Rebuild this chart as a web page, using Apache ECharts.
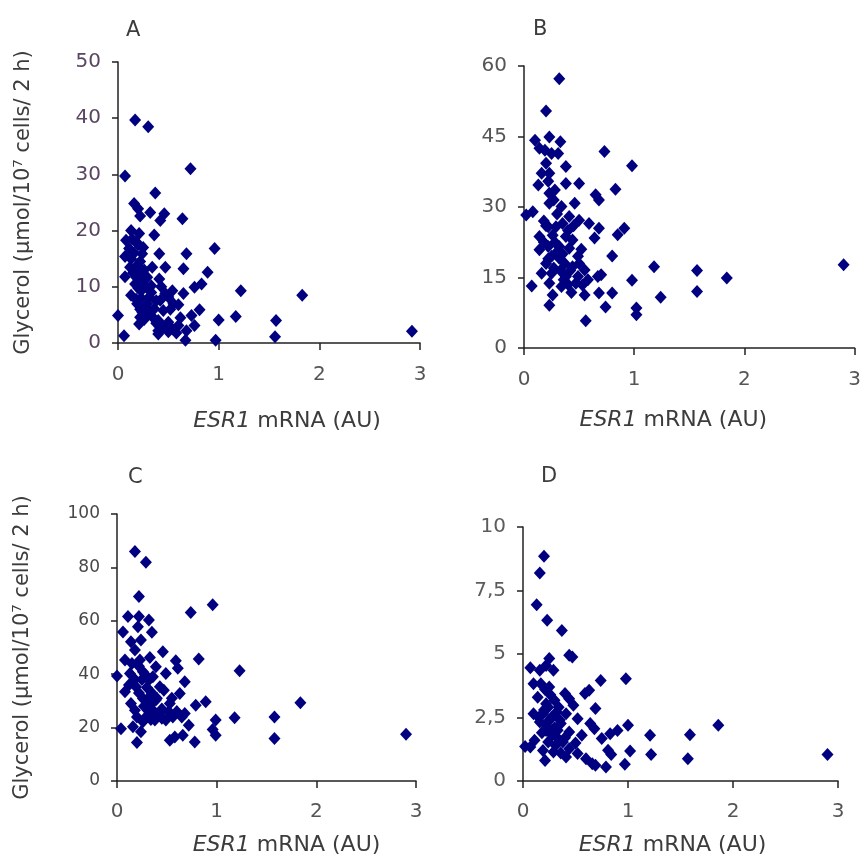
<!DOCTYPE html>
<html>
<head>
<meta charset="utf-8">
<script src="https://cdn.jsdelivr.net/npm/echarts@6/dist/echarts.min.js"></script>
<style>
  html, body { margin: 0; padding: 0; background: #fff; }
  #chart { width: 864px; height: 862px; }
</style>
</head>
<body>
<div id="chart"></div>
<script>
// panel A: [ESR1 mRNA, glycerol]
var panelA = [
  [0.17, 39.7], [0.30, 38.5], [0.07, 29.7], [0.72, 31], [0.37, 26.7], [0.16, 24.8], [0.20, 23.9],
  [0.22, 22.6], [0.32, 23.2], [0.46, 23], [0.42, 21.8], [0.64, 22.1], [0.36, 19.2], [0.13, 20],
  [0.08, 18.3], [0.21, 19.5], [0.07, 15.4], [0.24, 15.9], [0.41, 15.9], [0.68, 15.9], [0.96, 16.8],
  [0.47, 13.5], [0.65, 13.2], [0.34, 13.5], [0.89, 12.6], [0.07, 11.8], [0.18, 11.7], [0.29, 11.7],
  [0.41, 11.4], [0.83, 10.5], [0.76, 9.9], [1.22, 9.3], [1.83, 8.5], [0.13, 8.5], [0.23, 9.3],
  [0.54, 9.3], [0.65, 8.8], [0.31, 8.2], [0.42, 7.6], [0.47, 8.8], [0.19, 7], [0.29, 7], [0.55, 7],
  [0.24, 5.5], [0.36, 6.1], [0.45, 5.8], [0.81, 5.9], [0.0, 4.9], [0.22, 4.6], [0.40, 4], [0.73, 4.9],
  [1.0, 4.1], [1.17, 4.7], [1.57, 4], [0.21, 3.4], [0.50, 3.7], [0.60, 3.1], [0.76, 3.1], [0.40, 2.2],
  [0.54, 2.5], [0.68, 2.2], [0.06, 1.3], [0.67, 0.5], [0.97, 0.5], [1.56, 1.1], [0.40, 1.6], [2.92, 2.1],
  [0.14, 18.5], [0.18, 18], [0.20, 17.5], [0.25, 17], [0.16, 16], [0.22, 14.5], [0.19, 13.8], [0.26, 13],
  [0.15, 12.5], [0.21, 12], [0.24, 11], [0.17, 10.5], [0.28, 10], [0.20, 9.8], [0.33, 10.2], [0.23, 8],
  [0.18, 7.8], [0.27, 6.5], [0.22, 6], [0.30, 5.2], [0.35, 4.5], [0.38, 3.5], [0.26, 4.2], [0.45, 2.8],
  [0.50, 2], [0.58, 1.8], [0.33, 9], [0.38, 7.5], [0.43, 10], [0.50, 8.2], [0.52, 6], [0.60, 6.8],
  [0.62, 4.5], [0.13, 15], [0.11, 16.8], [0.12, 13.5]
];

// panel B
var panelB = [
  [0.32, 57.3], [0.20, 50.4], [0.10, 44.2], [0.23, 44.9], [0.33, 43.9], [0.14, 42.5], [0.19, 42.1],
  [0.25, 41.4], [0.31, 41.4], [0.73, 41.8], [0.98, 38.8], [0.38, 38.6], [0.20, 39.3], [0.16, 37.2],
  [0.23, 37.2], [0.13, 34.7], [0.38, 35], [0.50, 35], [0.83, 33.8], [0.65, 32.6], [0.68, 31.5],
  [0.23, 32.9], [0.28, 33.6], [0.23, 30.8], [0.34, 30.1], [0.46, 30.8], [0.02, 28.3], [0.08, 29],
  [0.41, 28], [0.50, 27.2], [0.59, 26.5], [0.22, 25.8], [0.29, 25.8], [0.68, 25.5], [0.91, 25.5],
  [0.85, 24.1], [0.64, 23.4], [0.38, 23.7], [0.14, 23.7], [0.44, 23], [0.22, 21.6], [0.32, 21.6],
  [0.14, 20.9], [0.41, 21.2], [0.80, 19.6], [0.25, 19.5], [0.32, 19.1], [0.49, 19.5], [0.20, 18],
  [0.37, 18], [1.18, 17.3], [2.90, 17.7], [0.44, 17.3], [0.55, 16.6], [1.57, 16.5], [0.16, 15.9],
  [0.25, 15.9], [0.38, 15.2], [0.49, 15.2], [0.58, 14.5], [0.70, 15.6], [0.67, 15.2], [0.98, 14.4],
  [1.84, 14.9], [0.07, 13.2], [0.23, 13.8], [0.34, 13.1], [0.53, 13.4], [0.43, 11.8], [0.55, 11.3],
  [0.68, 11.7], [0.80, 11.7], [1.57, 12], [0.26, 11.3], [1.24, 10.8], [0.74, 8.7], [0.23, 9.1],
  [1.02, 8.5], [1.02, 7.1], [0.56, 5.8],
  [0.18, 27], [0.20, 26], [0.26, 24], [0.28, 22.5], [0.30, 20.5], [0.35, 20], [0.22, 19], [0.27, 17],
  [0.33, 16.5], [0.36, 14.5], [0.40, 13.5], [0.47, 13.8], [0.18, 22.5], [0.35, 26.5], [0.40, 25],
  [0.45, 26], [0.52, 21], [0.22, 35.5], [0.27, 31.5], [0.30, 28.5], [0.42, 16.5], [0.50, 18]
];

// panel C
var panelC = [
  [0.18, 86], [0.29, 81.9], [0.22, 69.1], [0.96, 66], [0.74, 63.1], [0.11, 61.6], [0.22, 61.6],
  [0.32, 60.3], [0.06, 55.8], [0.35, 55.7], [0.21, 57.8], [0.14, 52.2], [0.24, 52.8], [0.18, 49.1],
  [0.46, 48.4], [0.08, 45.3], [0.82, 45.7], [0.59, 45], [0.23, 45.3], [0.33, 46.3], [0.39, 42.8],
  [0.61, 42.2], [1.23, 41.3], [0.0, 39.3], [0.13, 40.3], [0.26, 40.9], [0.49, 40.3], [0.68, 37.2],
  [0.08, 33.4], [0.32, 37.8], [0.43, 35.3], [0.63, 32.8], [0.19, 35.3], [0.89, 29.7], [1.84, 29.3],
  [0.79, 28.4], [0.26, 30.9], [0.39, 30.3], [0.53, 29], [0.14, 29], [0.68, 25.3], [0.31, 26.5],
  [0.43, 25.3], [0.18, 26.5], [0.56, 24], [1.58, 24], [1.18, 23.7], [0.99, 22.8], [0.72, 20.9],
  [0.26, 22.2], [0.38, 22.8], [0.49, 22.8], [0.04, 19.6], [0.16, 20.3], [0.96, 19.3], [0.24, 18.4],
  [0.99, 17.1], [0.58, 16.5], [0.66, 17.1], [0.53, 15.3], [1.58, 15.9], [0.78, 14.6], [0.20, 14.4],
  [0.22, 43], [0.28, 40], [0.30, 35], [0.35, 33], [0.22, 33], [0.27, 28], [0.33, 28.5], [0.36, 26.5],
  [0.40, 24.5], [0.45, 27], [0.20, 24], [0.29, 24], [0.34, 23], [0.25, 38], [0.36, 39], [0.47, 34],
  [0.52, 26], [0.40, 31], [0.18, 38], [0.15, 44], [0.12, 36], [0.30, 30.5], [0.37, 25], [0.45, 23.5],
  [0.60, 26], [0.65, 24], [0.55, 31], [2.90, 17.5]
];

// panel D
var panelD = [
  [0.20, 8.85], [0.16, 8.19], [0.13, 6.94], [0.23, 6.33], [0.37, 5.93], [0.44, 4.95], [0.47, 4.88],
  [0.25, 4.82], [0.22, 4.55], [0.07, 4.46], [0.16, 4.36], [0.29, 4.36], [0.98, 4.03], [0.74, 3.96],
  [0.10, 3.83], [0.17, 3.83], [0.25, 3.7], [0.63, 3.57], [0.59, 3.44], [0.40, 3.44], [0.44, 3.24],
  [0.14, 3.3], [0.30, 3.18], [0.22, 3.04], [0.69, 2.85], [0.48, 2.98], [0.10, 2.65], [0.19, 2.65],
  [0.32, 2.72], [0.41, 2.65], [0.25, 2.39], [0.52, 2.45], [0.36, 2.26], [0.16, 2.32], [0.64, 2.26],
  [1.00, 2.19], [1.86, 2.19], [0.68, 2.06], [0.90, 1.99], [0.83, 1.86], [0.22, 1.99], [0.44, 1.93],
  [1.21, 1.80], [1.59, 1.82], [0.56, 1.80], [0.75, 1.67], [0.32, 1.73], [0.11, 1.6], [0.24, 1.54],
  [0.38, 1.54], [0.02, 1.36], [0.07, 1.34], [0.44, 1.27], [0.81, 1.21], [1.02, 1.18], [0.29, 1.14],
  [0.52, 1.08], [0.84, 1.04], [1.22, 1.04], [2.90, 1.04], [0.41, 0.94], [0.60, 0.88], [0.21, 0.81],
  [1.57, 0.88], [0.66, 0.68], [0.97, 0.66], [0.79, 0.55], [0.69, 0.62],
  [0.20, 2.8], [0.27, 2.5], [0.30, 2.1], [0.22, 2.2], [0.33, 2.0], [0.28, 1.8], [0.18, 1.9], [0.35, 2.4],
  [0.26, 3.4], [0.31, 1.4], [0.36, 1.1], [0.19, 1.2], [0.24, 2.9], [0.15, 2.5], [0.40, 1.7], [0.50, 1.5],
  [0.27, 1.95], [0.34, 2.9], [0.21, 3.6]
];

var panelLabels = ['A', 'B', 'C', 'D'];
var yMax = [50, 60, 100, 10];
var yStep = [10, 15, 20, 2.5];
var xTicks = [0, 1, 2, 3];

// the original uses a wide sans face, DejaVu gets the widths closest
var font = '"DejaVu Sans", Verdana, sans-serif';
var yName = 'Glycerol (µmol/10⁷ cells/ 2 h)';

// grid boxes in pixels
var boxes = [
  { left: 118, top: 62, width: 302, height: 281 },
  { left: 524, top: 66, width: 331, height: 282 },
  { left: 117, top: 514, width: 299, height: 267 },
  { left: 523, top: 527, width: 315, height: 254 }
];
var titlePos = [[121, 15], [528, 14], [123, 462], [536, 461]];
var labelMargin = [22, 22, 21, 21];
var nameGaps = [67, 61, 53, 53];
// horizontal shift of the x-axis name off the axis centre (px)
var nameShift = [18, -16, 20, -8];
var labelColors = ['#5a4563', '#555', '#484848', '#5c5c5c'];
var textColor = '#3c3c3c';
var allData = [panelA, panelB, panelC, panelD];

var grids = [], xAxes = [], yAxes = [], series = [], titles = [];
for (var i = 0; i < 4; i++) {
  var b = boxes[i];
  var sh = nameShift[i];
  grids.push({ left: b.left, top: b.top, width: b.width, height: b.height });
  titles.push({
    text: panelLabels[i],
    left: titlePos[i][0],
    top: titlePos[i][1],
    textStyle: { fontFamily: font, fontWeight: 'normal', fontSize: 21, color: textColor }
  });
  xAxes.push({
    gridIndex: i,
    type: 'value',
    min: xTicks[0],
    max: xTicks[xTicks.length - 1],
    interval: 1,
    name: '{it|ESR1} mRNA (AU)',
    nameLocation: 'middle',
    nameGap: nameGaps[i],
    nameTextStyle: {
      fontFamily: font, fontSize: 22, color: textColor,
      padding: sh > 0 ? [0, 0, 0, 2 * sh] : [0, -2 * sh, 0, 0],
      rich: { it: { fontStyle: 'italic', fontFamily: font, fontSize: 22, color: textColor } }
    },
    splitLine: { show: false },
    axisLine: { lineStyle: { color: '#222', width: 1.5 } },
    axisTick: { inside: false, length: 7, lineStyle: { color: '#222', width: 1.5 } },
    axisLabel: { fontFamily: font, fontSize: 20, color: '#555', margin: labelMargin[i] }
  });
  yAxes.push({
    gridIndex: i,
    type: 'value',
    min: 0,
    max: yMax[i],
    interval: yStep[i],
    name: (i % 2 === 0) ? yName : '',
    nameLocation: 'middle',
    nameGap: 84,
    nameTextStyle: { fontFamily: font, fontSize: 21, color: textColor },
    splitLine: { show: false },
    axisLine: { show: true, lineStyle: { color: '#222', width: 1.5 } },
    axisTick: { show: true, inside: false, length: 6, lineStyle: { color: '#222', width: 1.5 } },
    axisLabel: {
      fontFamily: font, fontSize: i === 2 ? 17 : 20, color: labelColors[i], margin: 17,
      formatter: function (v) { return String(v).replace('.', ','); }
    }
  });
  series.push({
    type: 'scatter',
    xAxisIndex: i,
    yAxisIndex: i,
    symbol: 'diamond',
    symbolSize: [12, 13],
    itemStyle: { color: '#000080', opacity: 1 },
    data: allData[i],
    silent: true
  });
}

var chart = echarts.init(document.getElementById('chart'));
chart.setOption({
  backgroundColor: '#fff',
  animation: false,
  title: titles,
  grid: grids,
  xAxis: xAxes,
  yAxis: yAxes,
  series: series
});
</script>
</body>
</html>
